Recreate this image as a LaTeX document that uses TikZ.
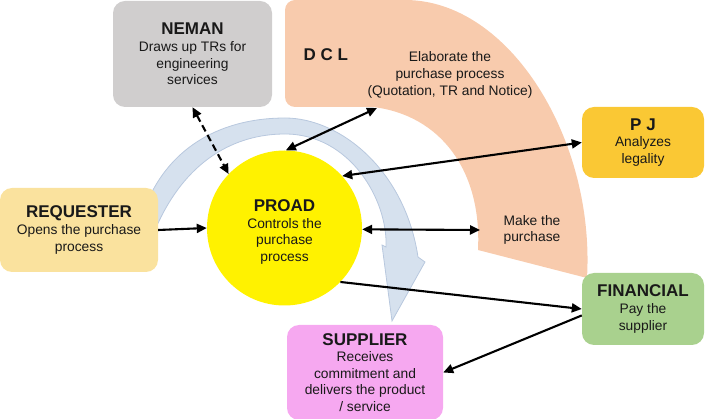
\documentclass[tikz,border=0pt]{standalone}
\usepackage{fontspec}
\setmainfont{Liberation Sans}
\usetikzlibrary{arrows.meta,shapes}

\definecolor{nemangray}{RGB}{208,206,206}
\definecolor{dclpeach}{RGB}{248,203,173}
\definecolor{reqyellow}{RGB}{250,226,158}
\definecolor{pjgold}{RGB}{250,200,52}
\definecolor{fingreen}{RGB}{169,209,142}
\definecolor{suppink}{RGB}{246,168,240}
\definecolor{bandfill}{RGB}{214,225,238}
\definecolor{banddraw}{RGB}{184,200,222}
\definecolor{txt}{RGB}{25,25,25}

\newcommand{\bodysize}{\fontsize{13.8}{16.6}\selectfont}
\newcommand{\ttl}[1]{{\fontsize{17}{18}\selectfont\bfseries #1}}

\tikzstyle{box}=[rectangle, rounded corners=12pt, inner sep=0pt, align=center, text=txt, font=\bodysize]
\tikzstyle{hub}=[circle, fill=yellow, inner sep=0pt, minimum size=155pt]
\tikzstyle{note}=[align=center, text=txt, font=\bodysize]
\tikzstyle{edge}=[draw, line width=2.1pt, ->]
\tikzstyle{twoway}=[draw, line width=2.1pt, <->]

\begin{document}
\begin{tikzpicture}[x=1pt, y=-1pt, >={Triangle[length=10pt,width=9pt]}]

    \useasboundingbox (0,0) rectangle (705,419);

    % D C L band
    \path[fill=dclpeach] (285,50) [rounded corners=10pt] -- (285,0) -- (395,0) [sharp corners]
        .. controls (510,0) and (595,140) .. (587,278) -- (478,250)
        .. controls (482,170) and (440,115) .. (373,107) [rounded corners=10pt] -- (285,107) -- cycle;

    % curved process arrow
    \path[fill=bandfill, draw=banddraw, line width=0.8pt] (148,200)
        .. controls (175,140) and (230,118) .. (285,118)
        .. controls (340,118) and (405,170) .. (418,257) -- (425,262) -- (392,321) -- (382,245) -- (386,247)
        .. controls (388,200) and (350,134) .. (285,134)
        .. controls (235,134) and (185,160) .. (155,230) -- cycle;

    \foreach \x/\y/\w/\h/\col/\name/\txt in {
        79/230/158/84/reqyellow/req/{\ttl{REQUESTER}\\Opens the purchase\\process},
        192.5/54/159/106/nemangray/neman/{\ttl{NEMAN}\\Draws up TRs for\\engineering\\services},
        643/142.5/122/71/pjgold/pj/{\ttl{P J}\\Analyzes\\legality},
        643/309/122/72/fingreen/fin/{\ttl{FINANCIAL}\\Pay the\\supplier},
        365/372.5/156/95/suppink/sup/{\ttl{SUPPLIER}\\Receives\\commitment and\\delivers the product\\/ service}}
        \node[box, fill=\col, minimum width=\w pt, minimum height=\h pt] (\name) at (\x,\y) {\txt};

    \node[hub] (proad) at (284.5,228) {};
    \node[note] (proadtxt) at (284.5,232) {\ttl{PROAD}\\Controls the\\purchase\\process};

    \node[note, font=\fontsize{17}{18}\selectfont\bfseries, anchor=west] (dcl) at (300,55) {D C L};
    \node[note] (elab) at (450,75) {Elaborate the\\purchase process\\(Quotation, TR and Notice)};
    \node[note] (make) at (532,230) {Make the\\purchase};

    \coordinate (dclA) at (377,108);
    \coordinate (dclB) at (480,230);

    \path[edge] (req.east) -- (proad.west);
    \path[twoway, dash pattern=on 7pt off 4pt] (neman.south) -- (proad.136);

    \foreach \source/\dest in {dclA/proad.89, pj.west/proad.42, dclB/proad.-1}
        \path[twoway] (\source) -- (\dest);

    \path[edge] (proad.-44) -- (fin.west);
    \path[edge] (fin.186) -- (sup.east);

\end{tikzpicture}
\end{document}
